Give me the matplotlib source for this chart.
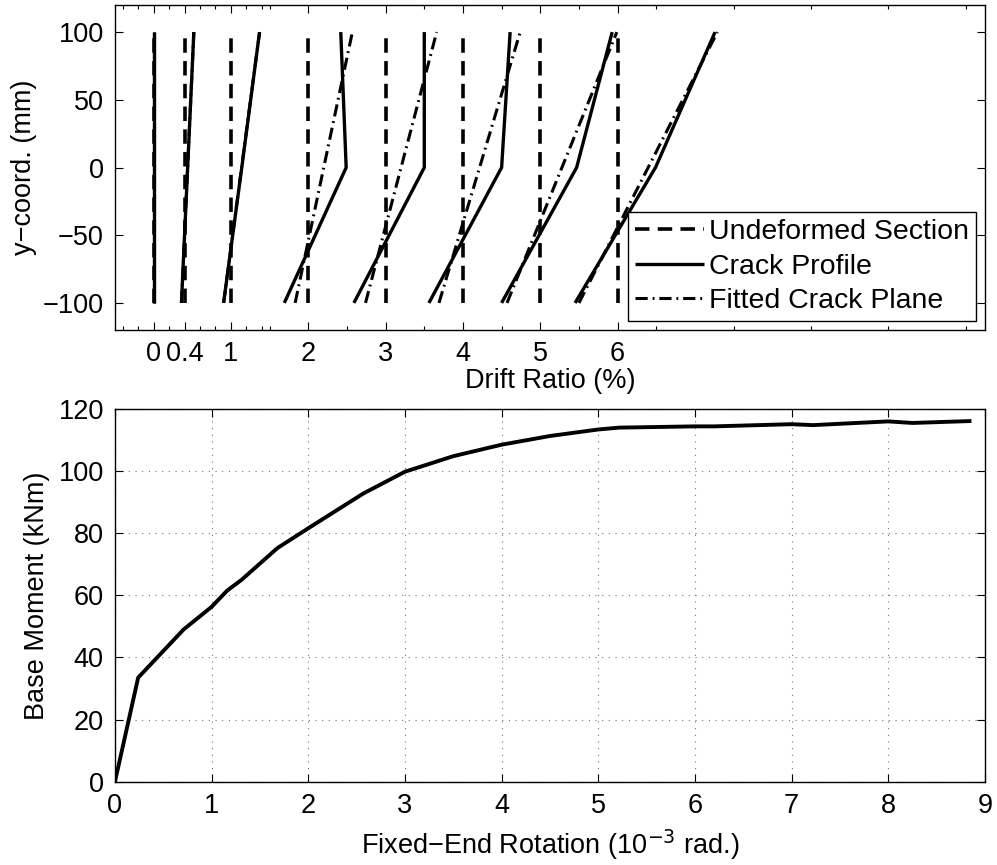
import numpy as np
import matplotlib.pyplot as plt

plt.rcParams["font.family"] = ["Liberation Sans", "DejaVu Sans"]
plt.rcParams["font.size"] = 19.5

# Poziomy dryfu (%)
drift_levels = [0, 0.4, 1, 2, 3, 4, 5, 6]
drift_labels = ["0", "0.4", "1", "2", "3", "4", "5", "6"]

# Profil rysy: x przy y = -100, 0, 100 mm
profile_y = [-100, 0, 100]
profile_x = [
    [0.0, 0.0, 0.0],
    [0.36, 0.44, 0.52],
    [0.905, 1.14, 1.37],
    [1.69, 2.49, 2.42],
    [2.59, 3.50, 3.50],
    [3.56, 4.50, 4.61],
    [4.50, 5.47, 5.93],
    [5.45, 6.49, 7.26],
]

# Dopasowana płaszczyzna rysy: x przy y = -100, 100 mm
fitted_y = [-100, 100]
fitted_x = [
    [0.0, 0.0],
    [0.36, 0.52],
    [0.905, 1.37],
    [1.83, 2.57],
    [2.74, 3.66],
    [3.69, 4.74],
    [4.57, 5.99],
    [5.50, 7.29],
]

# Moment u podstawy vs obrót
rotation = [0, 0.24, 0.71, 1.0, 1.16, 1.31, 1.68, 2.0, 2.57, 3.0, 3.5, 4.0,
            4.5, 5.0, 5.22, 6.0, 6.2, 7.0, 7.22, 8.0, 8.25, 8.84]
moment = [0, 33.5, 49.0, 56.3, 61.5, 65.0, 75.2, 81.6, 92.8, 99.8, 104.8, 108.5,
          111.3, 113.4, 114.0, 114.4, 114.4, 115.1, 114.8, 116.0, 115.5, 116.1]


def style_axes(ax):
    for s in ax.spines.values():
        s.set_linewidth(1.0)
    ax.tick_params(which="both", direction="in", top=True, right=True, width=0.8)
    ax.tick_params(which="major", length=6, pad=8)
    ax.tick_params(which="minor", length=3)


fig = plt.figure(figsize=(9.97, 8.65), dpi=100)

# Górny wykres - profile rys
ax1 = fig.add_axes([0.1153, 0.6185, 0.8726, 0.3757])
for i, d in enumerate(drift_levels):
    ax1.plot([d, d], [-100, 100], color="k", lw=2.6, dashes=(4, 2.3),
             label="Undeformed Section" if i == 0 else None)
for i, d in enumerate(drift_levels):
    ax1.plot(profile_x[i], profile_y, color="k", lw=2.4, solid_capstyle="butt",
             label="Crack Profile" if i == 0 else None)
for i, d in enumerate(drift_levels):
    ax1.plot(fitted_x[i], fitted_y, color="k", lw=2.2, dashes=(4, 1.6, 0.6, 1.6),
             label="Fitted Crack Plane" if i == 0 else None)

ax1.set_xlim(-0.5, 10.75)
ax1.set_ylim(-120, 120)
ax1.set_xticks(drift_levels)
ax1.set_xticklabels(drift_labels)
minor = [-0.4, -0.2, 0.2, 0.6, 0.8, 1.2, 1.4] + list(np.arange(1.5, 10.6, 1.0))
ax1.set_xticks(minor, minor=True)
ax1.set_yticks([-100, -50, 0, 50, 100])
ax1.set_xlabel("Drift Ratio (%)", labelpad=1)
ax1.set_ylabel("y\u2212coord. (mm)", labelpad=4)
style_axes(ax1)
leg = ax1.legend(loc="lower right", fancybox=False, edgecolor="k", framealpha=1,
                 handlelength=2.4, handletextpad=0.2, labelspacing=0.3,
                 borderpad=0.25, borderaxespad=0.3, prop={"size": 20.5})
leg.get_frame().set_linewidth(1.0)

# Dolny wykres - moment u podstawy
ax2 = fig.add_axes([0.1153, 0.0963, 0.8726, 0.4309])
ax2.plot(rotation, moment, color="k", lw=2.8)
ax2.set_xlim(0, 9)
ax2.set_ylim(0, 120)
ax2.set_xticks(range(0, 10))
ax2.set_yticks(range(0, 121, 20))
ax2.grid(True, color="0.45", linestyle=(0, (1, 5)), lw=0.8)
ax2.set_xlabel("Fixed\u2212End Rotation (10$^{\u22123}$ rad.)", labelpad=6)
ax2.set_ylabel("Base Moment (kNm)", labelpad=6)
style_axes(ax2)

plt.savefig("out.png", dpi=100)
